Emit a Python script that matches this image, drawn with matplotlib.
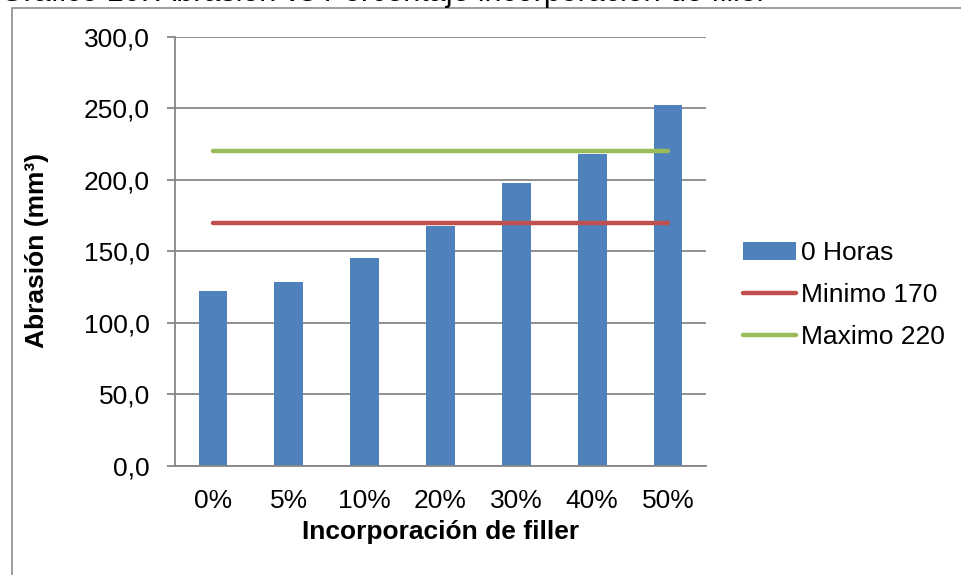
import matplotlib.pyplot as plt
from matplotlib.patches import Rectangle

plt.rcParams['font.family'] = ['Liberation Sans', 'DejaVu Sans']

# data
categories = ["0%", "5%", "10%", "20%", "30%", "40%", "50%"]
abrasion_0h = [122.0, 128.5, 145.5, 167.5, 197.5, 218.0, 252.5]
minimo = 170
maximo = 220
yticks = [0, 50, 100, 150, 200, 250, 300]

W, H = 961, 575
fig = plt.figure(figsize=(W / 100, H / 100), dpi=100)
ax = fig.add_axes([175 / W, 1 - 465.7 / H, 531 / W, 428.7 / H])

x = list(range(len(categories)))
grid_c = "#878787"
fs = 19

bars = ax.bar(x, abrasion_0h, width=0.38, color="#4F81BD", zorder=2, label="0 Horas")
l_min, = ax.plot([x[0], x[-1]], [minimo, minimo], color="#C0504D", lw=3.2,
                 solid_capstyle="round", zorder=3, label="Minimo 170")
l_max, = ax.plot([x[0], x[-1]], [maximo, maximo], color="#9BBB59", lw=3.2,
                 solid_capstyle="round", zorder=3, label="Maximo 220")

ax.set_xlim(-0.5, len(categories) - 0.5)
ax.set_ylim(0, 300)
ax.set_yticks(yticks)
ax.set_yticklabels([f"{v:.1f}".replace(".", ",") for v in yticks], fontsize=fs)
ax.set_xticks(x)
ax.set_xticklabels(categories, fontsize=fs)
ax.yaxis.grid(True, color=grid_c, lw=1.3, zorder=0)
ax.set_axisbelow(True)

for s in ["top", "right"]:
    ax.spines[s].set_visible(False)
for s in ["left", "bottom"]:
    ax.spines[s].set_color(grid_c)
    ax.spines[s].set_linewidth(1.3)
ax.tick_params(axis="y", length=6, width=1.3, color=grid_c, pad=12)
ax.tick_params(axis="x", length=0, pad=17)

ax.set_xlabel("Incorporación de filler", fontsize=fs, fontweight="bold")
ax.xaxis.set_label_coords(0.5, -0.127)
ax.set_ylabel("Abrasión (mm³)", fontsize=fs, fontweight="bold")
ax.yaxis.set_label_coords(-0.238, 0.503)

fig.legend(handles=[bars, l_min, l_max], loc="center left",
           bbox_to_anchor=(743 / W, 1 - 295 / H),
           frameon=False, fontsize=fs, handlelength=2.0, handletextpad=0.2,
           labelspacing=0.68, borderpad=0, borderaxespad=0)

# chart area border (cropped on the right and bottom)
fig.patches.append(Rectangle((12 / W, -0.5), 2.0, 1.5 - 8 / H,
                             transform=fig.transFigure, fill=False,
                             edgecolor="#8c8c8c", lw=1.2))

# title, mostly cut off at the top edge
fig.text(0.0, 1 - 0.6 / H, "Gráfico 10: Abrasión vs Porcentaje incorporación de filler",
         fontsize=22, va="baseline", ha="left")

fig.savefig("out.png", dpi=100)
